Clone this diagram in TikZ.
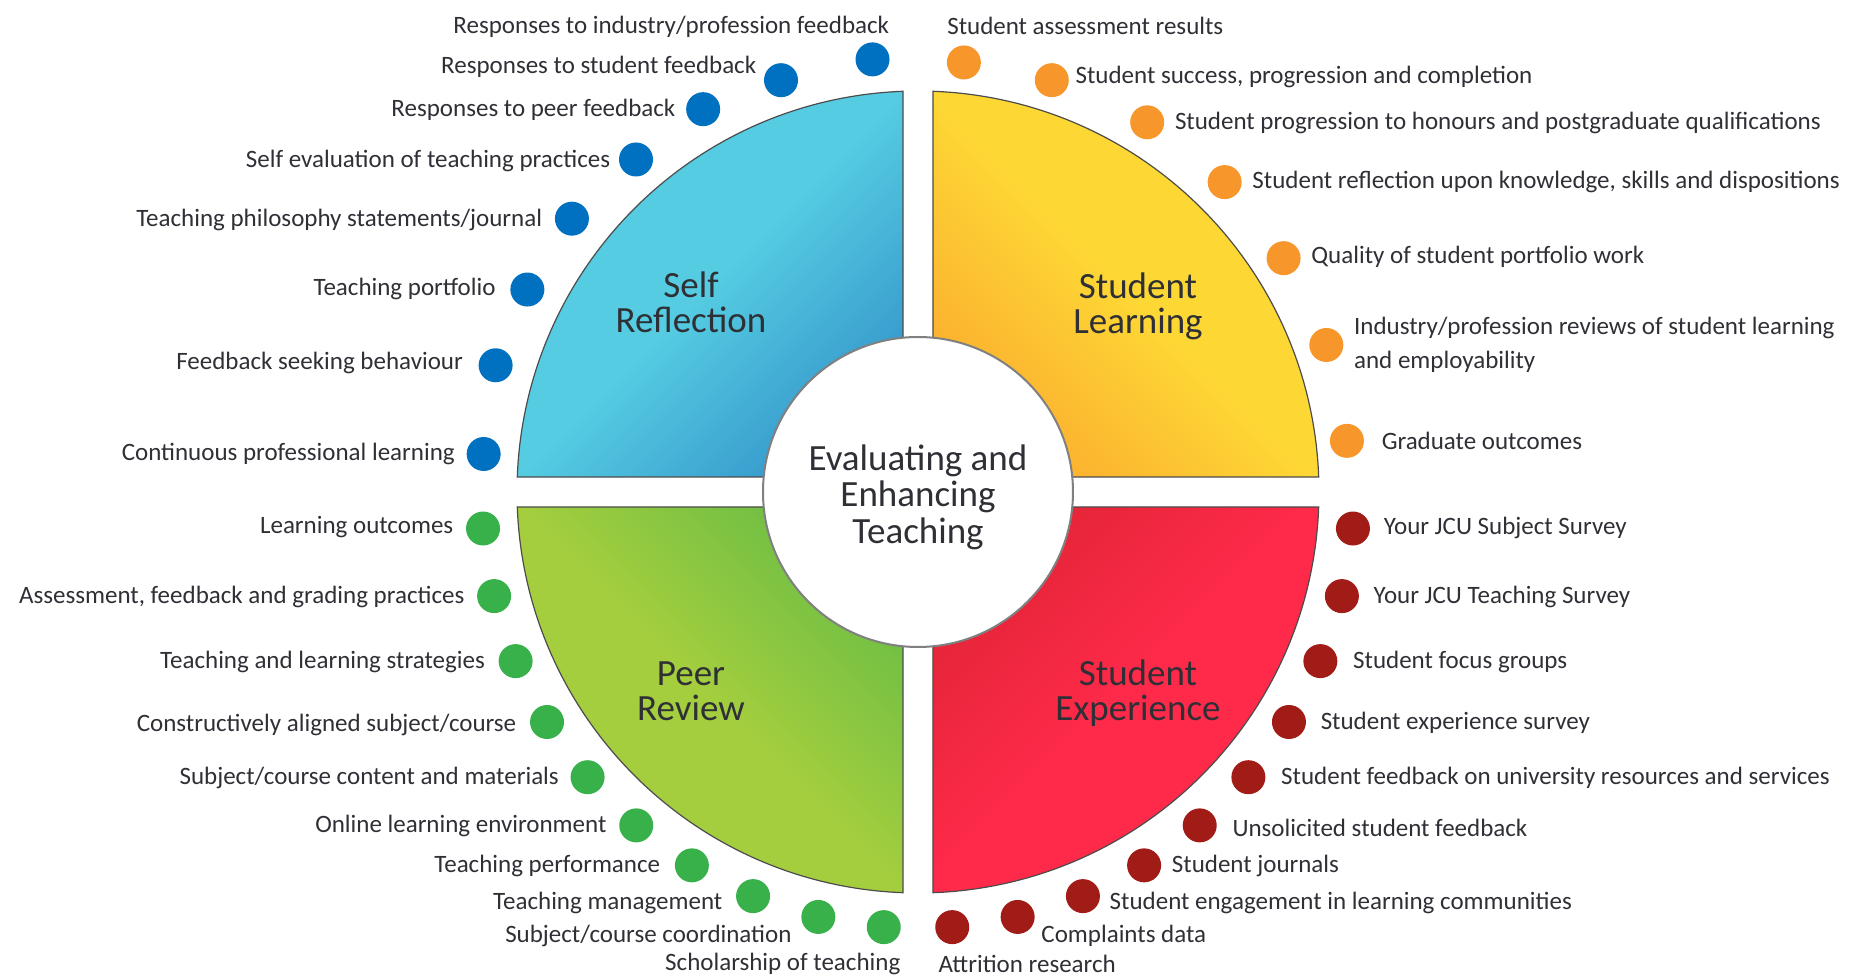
\documentclass[tikz,border=0pt]{standalone}
\usepackage{fontspec}
\setmainfont{Carlito}
\usetikzlibrary{positioning}

\newcommand\outerRadius{401}
\newcommand\innerSize{155pt}
\newcommand\gapHalf{15}
\newcommand\dotSize{17pt}
\newcommand\edgeColor{black!70}
\newcommand\labelFont{\fontsize{12.5}{17.2}\selectfont}
\newcommand\titleFont{\fontsize{18.5}{17.6}\selectfont}
\newcommand\centreFont{\fontsize{18.5}{18.3}\selectfont}

\definecolor{selfLight}{HTML}{55CCE2}
\definecolor{selfDark}{HTML}{2A84C3}
\definecolor{learnLight}{HTML}{FDD835}
\definecolor{learnDark}{HTML}{FB9E2C}
\definecolor{peerLight}{HTML}{A4CE3E}
\definecolor{peerDark}{HTML}{58B847}
\definecolor{expLight}{HTML}{FF2A4A}
\definecolor{expDark}{HTML}{D8232F}
\definecolor{selfDot}{HTML}{0070C0}
\definecolor{learnDot}{HTML}{F7962A}
\definecolor{peerDot}{HTML}{38B14B}
\definecolor{expDot}{HTML}{A11B17}
\definecolor{textDark}{HTML}{2F2F36}
\colorlet{quarterLight}{selfLight}
\colorlet{quarterDark}{selfDark}

% dark only close to the centre, light over the rest of the quarter
\pgfdeclareverticalshading[quarterLight,quarterDark]{quarterShade}{100bp}{color(0bp)=(quarterDark); color(15bp)=(quarterDark); color(50bp)=(quarterLight); color(100bp)=(quarterLight)}

\tikzset{
    dotNode/.style={circle, inner sep=0pt, minimum size=\dotSize},
    labelNode/.style={inner sep=0pt, align=left, text=textDark, font=\labelFont},
    titleNode/.style={inner sep=0pt, align=center, text=textDark, font=\titleFont},
}

\begin{document}
\begin{tikzpicture}[x=0.5pt, y=0.5pt]
    \useasboundingbox (-918,-486) rectangle (946,492);

    % one quarter shape, turned round the centre four times
    \pgfmathsetmacro\gapAngle{asin(\gapHalf/\outerRadius)}
    \foreach \turn/\lightCol/\darkCol in {0/learnLight/learnDark, 90/selfLight/selfDark, 180/peerLight/peerDark, 270/expLight/expDark}{
        \pgfmathsetmacro\shadeTurn{\turn-45}
        \colorlet{quarterLight}{\lightCol}
        \colorlet{quarterDark}{\darkCol}
        \shade[shading=quarterShade, shading angle=\shadeTurn, draw=\edgeColor, line width=0.6pt]
            (\turn+45:21.21) -- (\turn+\gapAngle:\outerRadius) arc[start angle=\turn+\gapAngle, end angle=\turn+90-\gapAngle, radius=\outerRadius] -- cycle;
    }

    \node[circle, draw=black!50, line width=1pt, fill=white, minimum size=\innerSize, inner sep=0pt] (Centre_Circle) at (0,0) {};
    \node[titleNode, font=\centreFont] (Centre_Text) at (0,-5) {Evaluating and\\Enhancing\\Teaching};

    \node[titleNode] (Title_Self) at (-227,190) {Self\\Reflection};
    \node[titleNode] (Title_Learning) at (220,186) {Student\\Learning};
    \node[titleNode] (Title_Peer) at (-227,-199) {Peer\\Review};
    \node[titleNode] (Title_Experience) at (220,-201) {Student\\Experience};

    % self reflection, blue dots down the upper left
    \node[dotNode, fill=selfDot] (Self_Dot_0) at (96:435) {};
    \node[labelNode, anchor=east] (Self_Label_0) at ([shift={(17,33)}]Self_Dot_0) {Responses to industry/profession feedback};
    \foreach \ang/\rad/\txt/\gap/\dy [count=\i] in {
        108.4/434/{Responses to student feedback}/3.5/6.5,
        119.3/439/{Responses to peer feedback}/5/-0.5,
        130.3/436/{Self evaluation of teaching practices}/4/-0.5,
        141.7/441/{Teaching philosophy statements/journal}/6/-0.5,
        152.6/440/{Teaching portfolio}/7/0.5,
        163.3/441/{Feedback seeking behaviour}/7.5/1,
        175.0/436/{Continuous professional learning}/5.5/0}{
        \node[dotNode, fill=selfDot] (Self_Dot_\i) at (\ang:\rad) {};
        \node[labelNode, left=\gap pt of Self_Dot_\i, yshift=\dy pt] (Self_Label_\i) {\txt};
    }

    % student learning, orange dots down the upper right
    \node[dotNode, fill=learnDot] (Learning_Dot_0) at (83.9:432) {};
    \node[labelNode, anchor=west] (Learning_Label_0) at ([shift={(-17,37)}]Learning_Dot_0) {Student assessment results};
    \foreach \ang/\rad/\txt/\gap/\dy [count=\i] in {
        72.0/433/{Student success, progression and completion}/3/1.5,
        58.2/435/{Student progression to honours and postgraduate qualifications}/5/-0.5,
        45.3/436/{Student reflection upon knowledge, skills and dispositions}/5/0,
        32.6/434/{Quality of student portfolio work}/5/0.5,
        19.8/434/{Industry/profession reviews of student learning\\and employability}/5/0,
        6.8/432/{Graduate outcomes}/8.5/0}{
        \node[dotNode, fill=learnDot] (Learning_Dot_\i) at (\ang:\rad) {};
        \node[labelNode, right=\gap pt of Learning_Dot_\i, yshift=\dy pt] (Learning_Label_\i) {\txt};
    }

    % peer review, green dots round the lower left
    \foreach \txt/\gap/\dy [count=\i from 0] in {
        {Learning outcomes}/6/0.5,
        {Assessment, feedback and grading practices}/6/-0.5,
        {Teaching and learning strategies}/6.5/-0.5,
        {Constructively aligned subject/course}/6.5/-1.5,
        {Subject/course content and materials}/5.5/-0.5,
        {Online learning environment}/6/-0.5,
        {Teaching performance}/7/-0.5,
        {Teaching management}/6.5/-3.5,
        {Subject/course coordination}/4.5/-9.5}{
        \node[dotNode, fill=peerDot] (Peer_Dot_\i) at ({184.8+9*\i}:436.5) {};
        \node[labelNode, left=\gap pt of Peer_Dot_\i, yshift=\dy pt] (Peer_Label_\i) {\txt};
    }
    \node[dotNode, fill=peerDot] (Peer_Dot_9) at (265.5:436.5) {};
    \node[labelNode, anchor=east] (Peer_Label_9) at ([shift={(17,-37)}]Peer_Dot_9) {Scholarship of teaching};

    % student experience, red dots round the lower right
    \foreach \txt/\gap/\dy [count=\i from 0] in {
        {Your JCU Subject Survey}/6.5/0.5,
        {Your JCU Teaching Survey}/7/-0.5,
        {Student focus groups}/7.5/-0.5,
        {Student experience survey}/7/-0.5,
        {Student feedback on university resources and services}/7.5/-0.5,
        {Unsolicited student feedback}/7.5/-1.5,
        {Student journals}/5/-0.5,
        {Student engagement in learning communities}/4.5/-3.5,
        {Complaints data}/3/-9.5}{
        \node[dotNode, fill=expDot] (Experience_Dot_\i) at ({-4.8-9*\i}:436.5) {};
        \node[labelNode, right=\gap pt of Experience_Dot_\i, yshift=\dy pt] (Experience_Label_\i) {\txt};
    }
    \node[dotNode, fill=expDot] (Experience_Dot_9) at (-85.5:436.5) {};
    \node[labelNode, anchor=west] (Experience_Label_9) at ([shift={(-14,-37)}]Experience_Dot_9) {Attrition research};

\end{tikzpicture}
\end{document}
